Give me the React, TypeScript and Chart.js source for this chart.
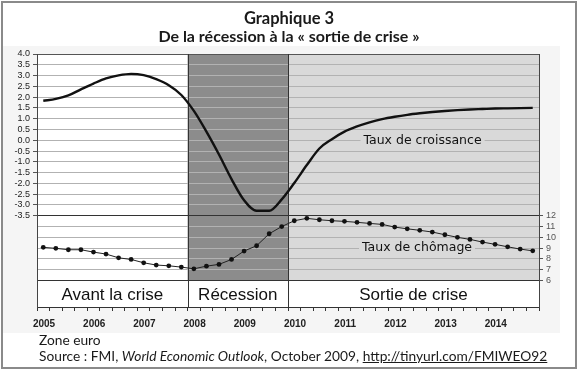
import React, { useEffect, useRef } from 'react';
import { Chart, registerables } from 'chart.js';

Chart.register(...registerables);

// ---- Data ----
const years = [2005, 2006, 2007, 2008, 2009, 2010, 2011, 2012, 2013, 2014];

// Quarterly growth rate (%), 2005 Q1 .. 2014 Q4
const growth = [
  1.83, 1.92, 2.08, 2.36, 2.63, 2.87, 3.01, 3.08, 3.02, 2.83,
  2.55, 2.1, 1.36, 0.4, -0.66, -1.8, -2.78, -3.27, -3.27, -2.74,
  -1.98, -1.15, -0.38, 0.05, 0.4, 0.64, 0.83, 0.98, 1.09, 1.18,
  1.25, 1.31, 1.36, 1.4, 1.43, 1.45, 1.47, 1.48, 1.49, 1.5,
];

// Quarterly unemployment rate (%), 2005 Q1 .. 2014 Q4
const unemployment = [
  9.07, 8.98, 8.85, 8.85, 8.63, 8.45, 8.1, 7.95, 7.64, 7.43,
  7.36, 7.24, 7.08, 7.33, 7.49, 7.95, 8.73, 9.22, 10.33, 11.0,
  11.54, 11.76, 11.63, 11.54, 11.48, 11.39, 11.29, 11.2, 10.95, 10.79,
  10.65, 10.49, 10.24, 10.0, 9.81, 9.56, 9.35, 9.12, 8.91, 8.75,
];

const growthTicks = [4.0, 3.5, 3.0, 2.5, 2.0, 1.5, 1.0, 0.5, 0.0, -0.5, -1.0, -1.5, -2.0, -2.5, -3.0, -3.5];
const unemploymentTicks = [6, 7, 8, 9, 10, 11, 12];

const phaseLabels = ['Avant la crise', 'Récession', 'Sortie de crise'];
const phaseStarts = [2005, 2008, 2010];
const phaseEnds = [2008, 2010, 2015];

const seriesLabels = ['Taux de croissance', 'Taux de chômage'];

// ---- Styling ----
const phaseColors = ['#ffffff', '#8c8c8c', '#d9d9d9'];
const labelBg = ['#d9d9d9', '#d9d9d9'];
const GRID = '#b2b2b2';
const DARK = '#333333';

// scale geometry (left axis units)
const Y_MAX = 4;
const Y_MIN = -7.73;
const PANEL_SPLIT = -3.5; // left -3.5 == right 12
const PANEL_BOTTOM = -6.5; // left -6.5 == right 6
const toRight = (v: number) => 12 + 2 * (v - PANEL_SPLIT);

const quarterPos = (i: number) => years[0] + (i + 0.5) / 4;

const bgPlugin = {
  id: 'phaseBg',
  beforeDraw(chart: any) {
    const { ctx, chartArea: a, scales } = chart;
    const x = scales.x;
    const y = scales.y;
    const bandTop = y.getPixelForValue(PANEL_BOTTOM);
    ctx.save();
    ctx.fillStyle = '#f5f5f5';
    ctx.fillRect(3, 2, 557, chart.height - 3);
    phaseStarts.forEach((s, i) => {
      const x0 = x.getPixelForValue(s);
      const x1 = x.getPixelForValue(phaseEnds[i]);
      ctx.fillStyle = phaseColors[i];
      ctx.fillRect(x0, a.top, x1 - x0, bandTop - a.top);
    });
    ctx.fillStyle = '#ffffff';
    ctx.fillRect(a.left, bandTop, a.right - a.left, a.bottom - bandTop);
    ctx.restore();
  },
  beforeDatasetsDraw(chart: any) {
    const { ctx, chartArea: a, scales } = chart;
    const x = scales.x;
    const y = scales.y;
    const y2 = scales.y2;
    const bandTop = y.getPixelForValue(PANEL_BOTTOM);
    ctx.save();
    // dividers
    ctx.strokeStyle = DARK;
    ctx.lineWidth = 1;
    phaseStarts.slice(1).forEach((s) => {
      const px = Math.round(x.getPixelForValue(s)) + 0.5;
      ctx.beginPath();
      ctx.moveTo(px, a.top);
      ctx.lineTo(px, a.bottom);
      ctx.stroke();
    });
    // phase labels
    ctx.fillStyle = '#111';
    ctx.font = '17px "Liberation Sans", Arial, sans-serif';
    ctx.textAlign = 'center';
    ctx.textBaseline = 'alphabetic';
    phaseLabels.forEach((l, i) => {
      const cx = (x.getPixelForValue(phaseStarts[i]) + x.getPixelForValue(phaseEnds[i])) / 2;
      ctx.fillText(l, cx, bandTop + 19.5);
    });
    // series labels
    ctx.font = '12.5px "DejaVu Sans", sans-serif';
    ctx.textBaseline = 'middle';
    const spots = [
      { x: x.getPixelForValue(2012.68), y: y.getPixelForValue(0) },
      { x: x.getPixelForValue(2012.57), y: y2.getPixelForValue(9) - 0.5 },
    ];
    seriesLabels.forEach((l, i) => {
      const w = ctx.measureText(l).width;
      ctx.fillStyle = labelBg[i];
      ctx.fillRect(spots[i].x - w / 2 - 3, spots[i].y - 6, w + 6, 12);
      ctx.fillStyle = '#111';
      ctx.fillText(l, spots[i].x, spots[i].y + 0.5);
    });
    ctx.restore();
  },
};

export default function App() {
  const ref = useRef<HTMLCanvasElement | null>(null);

  useEffect(() => {
    if (!ref.current) return;
    const quarterTicks: { value: number }[] = [];
    for (let q = years[0] * 4; q <= (years[years.length - 1] + 1) * 4; q++) quarterTicks.push({ value: q / 4 });
    const leftTicks: { value: number }[] = [];
    for (let v = PANEL_BOTTOM; v <= Y_MAX + 1e-9; v += 0.5) leftTicks.push({ value: v });

    const chart = new Chart(ref.current, {
      type: 'line',
      data: {
        datasets: [
          {
            label: seriesLabels[0],
            data: growth.map((v, i) => ({ x: quarterPos(i), y: v })),
            yAxisID: 'y',
            borderColor: '#111',
            borderWidth: 2.4,
            pointRadius: 0,
            cubicInterpolationMode: 'monotone',
            fill: false,
          },
          {
            label: seriesLabels[1],
            data: unemployment.map((v, i) => ({ x: quarterPos(i), y: v })),
            yAxisID: 'y2',
            borderColor: '#222',
            borderWidth: 1,
            pointRadius: 2.4,
            pointBackgroundColor: '#111',
            pointBorderWidth: 0,
            tension: 0,
            fill: false,
          },
        ],
      },
      options: {
        animation: false,
        responsive: false,
        devicePixelRatio: 1,
        events: [],
        layout: { padding: { top: 10, left: 0, right: 0, bottom: 0 } },
        plugins: { legend: { display: false }, tooltip: { enabled: false } },
        scales: {
          x: {
            type: 'linear',
            position: 'bottom',
            min: years[0],
            max: years[years.length - 1] + 1,
            afterBuildTicks: (s: any) => {
              s.ticks = quarterTicks.map((t) => ({ ...t }));
            },
            afterFit: (s: any) => {
              s.height = 27;
            },
            grid: { drawOnChartArea: false, drawTicks: true, tickLength: 4, color: DARK },
            border: { display: true, color: DARK, width: 1 },
            ticks: {
              autoSkip: false,
              maxRotation: 0,
              minRotation: 0,
              padding: 7,
              labelOffset: 7,
              color: '#222',
              font: { family: '"Liberation Sans", Arial, sans-serif', size: 10, weight: 'bold' },
              callback: (v: any) => (Number.isInteger(v) && years.includes(v) ? String(v) : ''),
            },
          },
          y: {
            type: 'linear',
            position: 'left',
            min: Y_MIN,
            max: Y_MAX,
            afterBuildTicks: (s: any) => {
              s.ticks = leftTicks.map((t) => ({ ...t }));
            },
            afterFit: (s: any) => {
              s.width = 37;
            },
            grid: {
              drawOnChartArea: true,
              tickLength: 4,
              color: (c: any) => {
                const v = c.tick ? c.tick.value : 0;
                if (Math.abs(v - PANEL_SPLIT) < 1e-6 || Math.abs(v - PANEL_BOTTOM) < 1e-6) return DARK;
                if (Math.abs(v - Y_MAX) < 1e-6) return '#555';
                return GRID;
              },
              tickColor: (c: any) => {
                const v = c.tick ? c.tick.value : 0;
                return v >= PANEL_SPLIT - 1e-6 ? '#555' : 'rgba(0,0,0,0)';
              },
            },
            border: { display: true, color: '#444', width: 1 },
            ticks: {
              autoSkip: false,
              padding: 3,
              color: '#222',
              font: { family: '"Liberation Sans", Arial, sans-serif', size: 9 },
              callback: (v: any) => {
                const t = growthTicks.find((g) => Math.abs(g - v) < 1e-6);
                return t === undefined ? '' : t.toFixed(1);
              },
            },
          },
          y2: {
            type: 'linear',
            position: 'right',
            min: toRight(Y_MIN),
            max: toRight(Y_MAX),
            afterBuildTicks: (s: any) => {
              s.ticks = unemploymentTicks.map((v) => ({ value: v }));
            },
            afterFit: (s: any) => {
              s.width = 40;
            },
            grid: { drawOnChartArea: false, tickLength: 4, color: '#555' },
            border: { display: true, color: '#444', width: 1 },
            ticks: {
              autoSkip: false,
              padding: 3,
              color: '#555',
              font: { family: '"Liberation Sans", Arial, sans-serif', size: 9 },
            },
          },
        },
      } as any,
      plugins: [bgPlugin],
    });
    return () => chart.destroy();
  }, []);

  const txt = '#1a1a1a';
  return (
    <div style={{ position: 'absolute', left: 0, top: 0, width: 579, height: 371, background: '#fff', overflow: 'hidden' }}>
      <canvas
        ref={ref}
        width={579}
        height={290}
        style={{ position: 'absolute', left: 0, top: 44, width: 579, height: 290 }}
      />
      <div
        style={{
          position: 'absolute',
          left: 1,
          top: 1,
          width: 572,
          height: 364,
          border: '2px solid #8a8a8a',
        }}
      />
      <div
        style={{
          position: 'absolute',
          left: 0,
          top: 9,
          width: 578,
          textAlign: 'center',
          font: 'bold 16.5px Lato, sans-serif',
          lineHeight: '19px',
          color: txt,
        }}
      >
        Graphique 3
      </div>
      <div
        style={{
          position: 'absolute',
          left: 0,
          top: 26,
          width: 578,
          textAlign: 'center',
          font: 'bold 16px Lato, sans-serif',
          lineHeight: '19px',
          color: txt,
        }}
      >
        De la récession à la « sortie de crise »
      </div>
      <div
        style={{
          position: 'absolute',
          left: 39,
          top: 331,
          font: '13.75px Lato, sans-serif',
          lineHeight: '17px',
          color: txt,
          whiteSpace: 'nowrap',
        }}
      >
        Zone euro
      </div>
      <div
        style={{
          position: 'absolute',
          left: 39,
          top: 347,
          font: '13.75px Lato, sans-serif',
          lineHeight: '17px',
          color: txt,
          whiteSpace: 'nowrap',
        }}
      >
        Source : FMI, <i>World Economic Outlook</i>, October 2009,{' '}
        <span style={{ textDecoration: 'underline' }}>http://tinyurl.com/FMIWEO92</span>
      </div>
    </div>
  );
}
